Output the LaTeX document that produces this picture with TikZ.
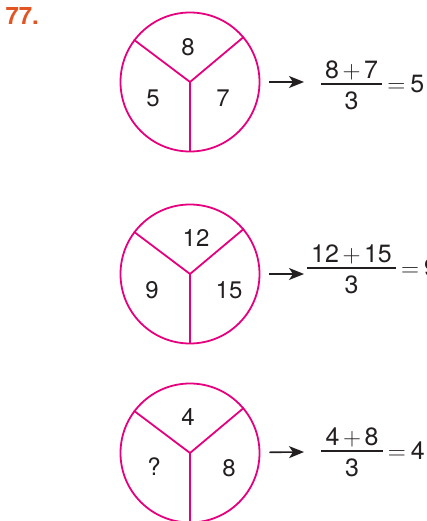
\RequirePackage{fix-cm}
\documentclass[tikz,border=0pt]{standalone}
\usepackage[no-math]{fontspec}
\setmainfont{TeX Gyre Heros}
\usepackage{tikz}
\usetikzlibrary{arrows.meta,positioning}

\definecolor{wheelpink}{RGB}{230,0,126}
\definecolor{numorange}{RGB}{226,84,34}
\definecolor{inkgray}{RGB}{35,31,32}

\newcommand{\fplus}{\hspace{3.5pt}$+$\hspace{3.5pt}}
\newcommand{\feq}{$=$\hspace{5pt}}

\tikzset{
  wheel/.style={circle, draw=wheelpink, line width=1.8pt, minimum size=139pt, inner sep=0pt},
  spoke/.style={wheelpink, line width=1.8pt},
  seg/.style={text=inkgray, inner sep=0pt, font=\fontsize{24}{28}\selectfont},
  fracnum/.style={text=inkgray, inner xsep=4pt, inner ysep=4pt, anchor=south, font=\fontsize{25}{30}\selectfont},
  fracden/.style={text=inkgray, inner sep=0pt, font=\fontsize{25}{30}\selectfont},
  fracbar/.style={inkgray, line width=1.2pt},
  result/.style={text=inkgray, inner sep=0pt, anchor=west, font=\fontsize{25}{30}\selectfont},
  toarrow/.style={inkgray, line width=1.6pt, -{Stealth[length=15pt,width=12pt,inset=4pt]}, shorten <=9pt}
}

\begin{document}
\begin{tikzpicture}[x=1pt,y=-1pt]
    \useasboundingbox (0,0) rectangle (427,521);
    \clip (0,0) rectangle (427,521);
    \node[anchor=base west, inner sep=0pt, text=numorange, font=\fontsize{24}{28}\selectfont\bfseries] (qnum) at (5.3,25) {77.};

    \node[wheel] (c1) at (190,82) {};
    \draw[spoke] (c1.center) -- (c1.143);
    \draw[spoke] (c1.center) -- (c1.40);
    \draw[spoke] (c1.center) -- (c1.south);
    \node[seg] (c1t) at (188,47) {8};
    \node[seg] (c1l) at (153,98) {5};
    \node[seg] (c1r) at (223,98) {7};
    \coordinate (a1) at (304,82);
    \draw[toarrow] (c1) -- (a1);
    \node[fracnum] (n1) at (351.5,84) {8\fplus7};
    \draw[fracbar] (n1.south west) -- (n1.south east);
    \node[fracden, below=8pt of n1] (d1) {3};
    \node[result] (e1) at ([xshift=5pt]n1.south east) {\feq5};

    \node[wheel] (c2) at (190,274) {};
    \draw[spoke] (c2.center) -- (c2.143);
    \draw[spoke] (c2.center) -- (c2.40);
    \draw[spoke] (c2.center) -- (c2.south);
    \node[seg] (c2t) at (196,238) {12};
    \node[seg] (c2l) at (152,290) {9};
    \node[seg] (c2r) at (229,290) {15};
    \coordinate (a2) at (304,274);
    \draw[toarrow] (c2) -- (a2);
    \node[fracnum] (n2) at (351.5,268) {12\fplus15};
    \draw[fracbar] (n2.south west) -- (n2.south east);
    \node[fracden, below=8pt of n2] (d2) {3};
    \node[result] (e2) at ([xshift=5pt]n2.south east) {\feq9};

    \node[wheel] (c3) at (190,453) {};
    \draw[spoke] (c3.center) -- (c3.143);
    \draw[spoke] (c3.center) -- (c3.40);
    \draw[spoke] (c3.center) -- (c3.south);
    \node[seg] (c3t) at (188,417) {4};
    \node[seg] (c3l) at (154,467) {?};
    \node[seg] (c3r) at (229,468) {8};
    \coordinate (a3) at (304,452);
    \draw[toarrow] (c3) -- (a3);
    \node[fracnum] (n3) at (352,451) {4\fplus8};
    \draw[fracbar] (n3.south west) -- (n3.south east);
    \node[fracden, below=8pt of n3] (d3) {3};
    \node[result] (e3) at ([xshift=5pt]n3.south east) {\feq4};
\end{tikzpicture}
\end{document}
